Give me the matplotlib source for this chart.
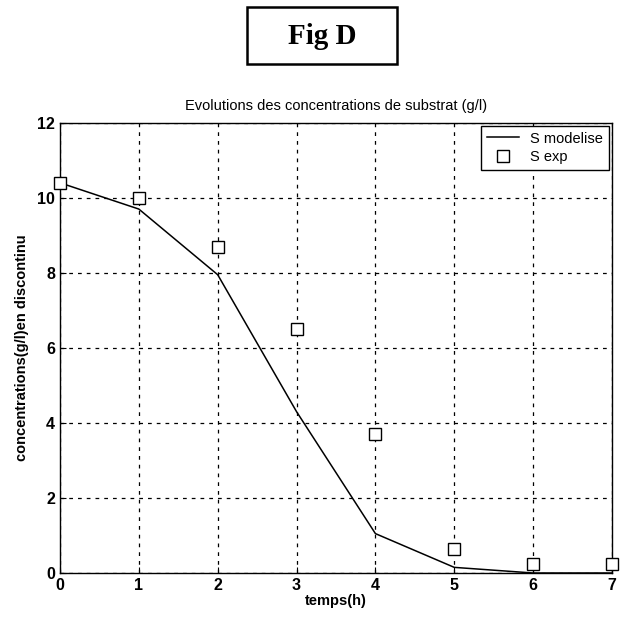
import matplotlib
matplotlib.use('Agg')
import matplotlib.pyplot as plt
from matplotlib.patches import Rectangle

t_model = [0, 1, 2, 3, 4, 5, 6, 7]
s_model = [10.4, 9.7, 7.95, 4.3, 1.05, 0.15, 0.0, 0.0]
t_exp = [0, 1, 2, 3, 4, 5, 6, 7]
s_exp = [10.4, 10.0, 8.7, 6.5, 3.7, 0.65, 0.25, 0.25]

plt.rcParams['font.family'] = ['Liberation Sans', 'DejaVu Sans']

fig = plt.figure(figsize=(6.28, 6.21), dpi=100)
ax = fig.add_axes([0.0955, 0.0773, 0.879, 0.725])

ax.plot(t_model, s_model, color='black', lw=1.1, label='S modelise')
ax.plot(t_exp, s_exp, 's', mfc='white', mec='black', ms=8.5, mew=1.0,
        ls='none', label='S exp', clip_on=False, zorder=5)

ax.set_xlim(0, 7)
ax.set_ylim(0, 12)
ax.set_xticks(range(0, 8))
ax.set_yticks(range(0, 13, 2))
ax.grid(True, color='black', ls=(0, (3, 4)), lw=0.9)
ax.tick_params(direction='in', length=4, labelsize=11.5)
for lab in ax.get_xticklabels() + ax.get_yticklabels():
    lab.set_fontweight('bold')
for s in ax.spines.values():
    s.set_linewidth(1.0)

ax.set_title('Evolutions des concentrations de substrat (g/l)', fontsize=10.5, pad=9)
ax.set_xlabel('temps(h)', fontsize=10.5, fontweight='bold', labelpad=1)
ax.set_ylabel('concentrations(g/l)en discontinu', fontsize=10.5, fontweight='bold', labelpad=6)

leg = ax.legend(loc='upper right', fontsize=10.5, fancybox=False, framealpha=1,
                edgecolor='black', borderaxespad=0.2, handlelength=2.2, borderpad=0.4,
                labelspacing=0.3)
leg.get_frame().set_linewidth(1.0)

# boxed figure label
fig.patches.append(Rectangle((0.393, 0.897), 0.239, 0.092, transform=fig.transFigure,
                             fc='white', ec='black', lw=1.8))
fig.text(0.513, 0.941, 'Fig D', ha='center', va='center', fontsize=21, fontweight='bold',
         family=['Liberation Serif', 'DejaVu Serif'])

fig.savefig('out.png', dpi=100)
